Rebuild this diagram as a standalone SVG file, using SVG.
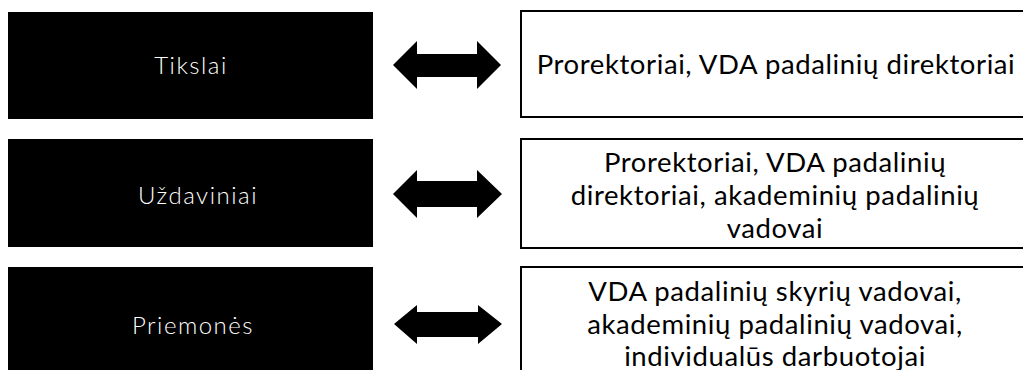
<svg xmlns="http://www.w3.org/2000/svg" width="1023" height="370" viewBox="0 0 1023 370">
<style>
.lbox{fill:#000}
.rbox{fill:#fff;stroke:#000;stroke-width:2}
.lt{font-family:Lato,"Open Sans",sans-serif;font-size:24px;font-weight:300;letter-spacing:1.5px;fill:#fff;text-anchor:middle;dominant-baseline:central}
.rt{font-family:Lato,"Open Sans",sans-serif;font-size:27.5px;letter-spacing:0.6px;fill:#000;text-anchor:middle;dominant-baseline:central}
.arr{fill:#000}
</style>
<rect width="1023" height="370" fill="#fff"/>
<g id="n1"><rect class="lbox" x="8" y="12" width="365" height="107"/><text class="lt" x="191" y="64">Tikslai</text></g>
<g id="n2"><rect class="lbox" x="8" y="139" width="365" height="108"/><text class="lt" x="198" y="194">Uždaviniai</text></g>
<g id="n3"><rect class="lbox" x="8" y="267" width="365" height="110"/><text class="lt" x="193" y="324">Priemonės</text></g>
<g id="r1"><rect class="rbox" x="521" y="11" width="510" height="106"/><text class="rt" x="776" y="63">Prorektoriai, VDA padalinių direktoriai</text></g>
<g id="r2"><rect class="rbox" x="521" y="139" width="510" height="109"/><text class="rt" x="775" y="161">Prorektoriai, VDA padalinių</text><text class="rt" x="775" y="194">direktoriai, akademinių padalinių</text><text class="rt" x="775" y="227">vadovai</text></g>
<g id="r3"><rect class="rbox" x="521" y="267" width="510" height="120"/><text class="rt" x="775" y="290">VDA padalinių skyrių vadovai,</text><text class="rt" x="775" y="323">akademinių padalinių vadovai,</text><text class="rt" x="775" y="355">individualūs darbuotojai</text></g>
<g id="connectors">
<polygon class="arr" points="393,65 417,41 417,54 477,54 477,41 501,65 477,89 477,77 417,77 417,89"/>
<polygon class="arr" points="393,194 417,170 417,181 477,181 477,170 502,194 477,218 477,207 417,207 417,218"/>
<polygon class="arr" points="394,324 417,305 417,312 478,312 478,305 502,324 478,344 478,337 417,337 417,344"/>
</g>
</svg>
